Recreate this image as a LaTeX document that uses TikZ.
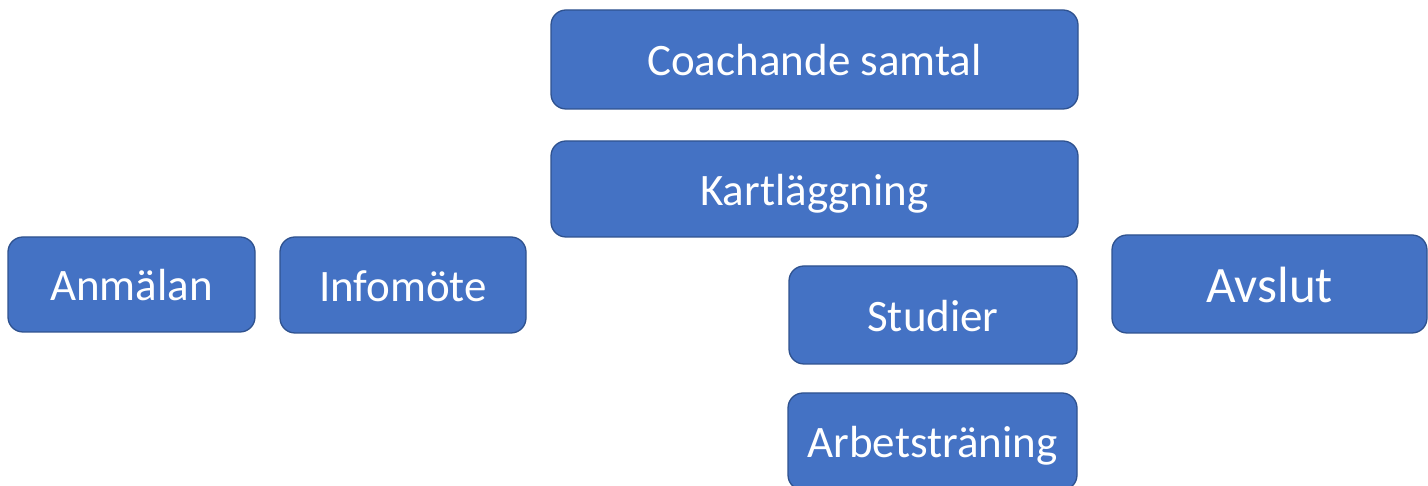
\documentclass[tikz,border=0pt]{standalone}
\usepackage{fontspec}
\setmainfont{Carlito}
\definecolor{boxfill}{HTML}{4472C4}
\definecolor{boxline}{HTML}{2F528F}
\tikzset{
  stepbox/.style={draw=boxline, fill=boxfill, line width=1.3pt, rounded corners=15pt,
    text=white, font=\fontsize{45}{54}\selectfont, inner sep=0pt,
    text height=40.5pt, text depth=7.5pt},
}
\begin{document}
\begin{tikzpicture}[x=1pt,y=1pt]
\useasboundingbox (0,0) rectangle (1428,486);
\clip (0,0) rectangle (1428,486);
\node[stepbox, minimum width=527pt, minimum height=99pt] (coach) at (814.5,426.5) {Coachande samtal};
\node[stepbox, minimum width=527pt, minimum height=96pt] (kart) at (814.5,297) {Kartläggning};
\node[stepbox, minimum width=247pt, minimum height=95pt] (anm) at (131.5,201.5) {Anmälan};
\node[stepbox, minimum width=246pt, minimum height=96pt] (info) at (403,201) {Infomöte};
\node[stepbox, minimum width=288pt, minimum height=98pt] (stud) at (933,171) {Studier};
\node[stepbox, minimum width=315pt, minimum height=98pt, font=\fontsize{51}{60}\selectfont, text height=45.9pt, text depth=8.5pt] (avslut) at (1269.5,202) {Avslut};
\node[stepbox, minimum width=289pt, minimum height=97pt] (arb) at (932.5,44.5) {Arbetsträning};
\end{tikzpicture}
\end{document}
